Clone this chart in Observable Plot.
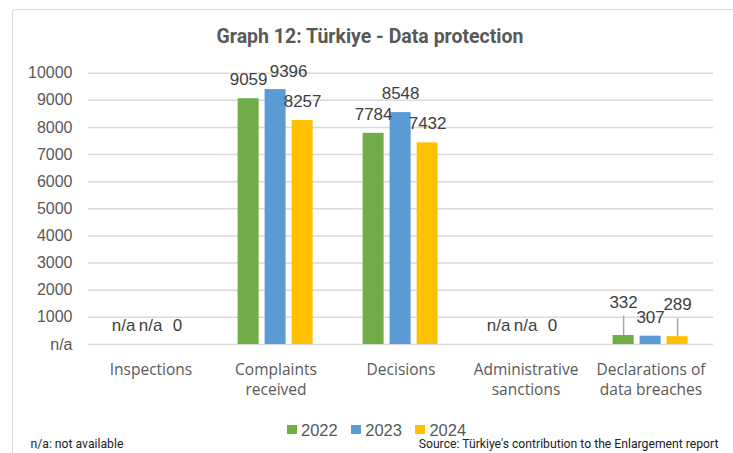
<!DOCTYPE html>
<html><head><meta charset="utf-8">
<script src="https://cdn.jsdelivr.net/npm/d3@7"></script>
<script src="https://cdn.jsdelivr.net/npm/@observablehq/plot@0.6"></script>
<style>
body{margin:0;background:#fff;}
#wrap{position:relative;width:733px;height:453px;overflow:hidden;font-family:"Liberation Sans",Arial,sans-serif;}
#frame{position:absolute;left:12px;top:9px;width:760px;height:480px;border:1.5px solid #d9d9d9;border-radius:3px;box-sizing:border-box;}
#title{position:absolute;left:0;width:740px;top:25px;text-align:center;font-family:Roboto,sans-serif;font-weight:bold;font-size:19.5px;color:#595959;line-height:23px;}
#chart{position:absolute;left:0;top:0;}
#legend{position:absolute;left:287px;top:419.5px;height:20px;display:flex;align-items:center;font-size:16.5px;color:#595959;line-height:20px;}
#legend .sw{display:inline-block;width:9.5px;height:9.5px;margin-right:4.5px;}
#legend .it{display:flex;align-items:center;margin-right:13.5px;}
#note{position:absolute;left:30.5px;top:437px;font-family:Roboto,sans-serif;font-size:12.2px;color:#222;line-height:14px;}
#source{position:absolute;right:14.5px;top:437px;font-family:Roboto,sans-serif;font-size:12.2px;color:#222;line-height:14px;}
</style>
</head><body>
<div id="wrap">
  <div id="frame"></div>
  <div id="chart"></div>
  <div id="title">Graph 12: Türkiye - Data protection</div>
  <div id="legend"></div>
  <div id="note">n/a: not available</div>
  <div id="source">Source: Türkiye's contribution to the Enlargement report</div>
</div>
<script>
const categories = ["Inspections", "Complaints received", "Decisions", "Administrative sanctions", "Declarations of data breaches"];
const categoryLabels = ["Inspections", "Complaints\nreceived", "Decisions", "Administrative\nsanctions", "Declarations of\ndata breaches"];
const years = ["2022", "2023", "2024"];
const values2022 = [null, 9059, 7784, null, 332];
const values2023 = [null, 9396, 8548, null, 307];
const values2024 = [0, 8257, 7432, 0, 289];
const colors = ["#70ad47", "#5b9bd5", "#ffc000"];
const yTicks = [0, 1000, 2000, 3000, 4000, 5000, 6000, 7000, 8000, 9000, 10000];
const yTickLabels = ["n/a", "1000", "2000", "3000", "4000", "5000", "6000", "7000", "8000", "9000", "10000"];

const series = [values2022, values2023, values2024];
const rows = categories.flatMap((c, i) => years.map((yr, j) => ({category: c, year: yr, value: series[j][i]})));
const labelText = d => d.value == null ? "n/a" : String(d.value);

// Excel-like label placement tweaks (layout only)
const nudges = {
  "Complaints received|2023": {dx: 13, dy: -18},
  "Declarations of data breaches|2022": {dx: 0, dy: -32.5, leader: 19.5},
  "Declarations of data breaches|2024": {dx: 0, dy: -32, leader: 18}
};
const key = d => d.category + "|" + d.year;

const labelFont = {fontSize: 17, fill: "#404040", fontFamily: "Liberation Sans, Arial, sans-serif", lineAnchor: "middle"};

const marks = [
  Plot.ruleY(yTicks, {y: d => d, stroke: "#d9d9d9", strokeWidth: 1.5}),
  Plot.barY(rows.filter(d => d.value > 0), {fx: "category", x: "year", y: "value", fill: "year"}),
  Plot.text(rows.filter(d => !nudges[key(d)]), {fx: "category", x: "year", y: d => d.value ?? 0, text: labelText, dy: -19, ...labelFont})
];
for (const d of rows) {
  const n = nudges[key(d)];
  if (!n) continue;
  marks.push(Plot.text([d], {fx: "category", x: "year", y: "value", text: labelText, dx: n.dx, dy: n.dy, ...labelFont}));
  if (n.leader) marks.push(Plot.ruleX([d], {fx: "category", x: "year", y1: "value", y2: "value", insetTop: -n.leader, stroke: "#a6a6a6", strokeWidth: 1.5}));
}
marks.push(
  Plot.axisY({ticks: yTicks, tickFormat: d => yTickLabels[yTicks.indexOf(d)], tickSize: 0, tickPadding: 16, fontSize: 16, color: "#595959", label: null}),
  Plot.axisFx({anchor: "bottom", tickSize: 0, tickPadding: 16.5, tickFormat: c => categoryLabels[categories.indexOf(c)], fontSize: 15.5, fontFamily: "Open Sans, sans-serif", lineHeight: 1.3, color: "#595959", label: null})
);

const chart = Plot.plot({
  width: 733,
  height: 400,
  marginTop: 72.7,
  marginBottom: 56,
  marginLeft: 87.4,
  marginRight: 18.7,
  style: {fontFamily: "Liberation Sans, Arial, sans-serif", fontSize: "16px", color: "#595959", background: "transparent", overflow: "visible"},
  fx: {domain: categories, padding: 0},
  x: {domain: years, paddingInner: 0.224, paddingOuter: 0.872, axis: null},
  y: {domain: [0, 10000], axis: null},
  color: {domain: years, range: colors},
  marks
});
document.getElementById("chart").appendChild(chart);

const legend = document.getElementById("legend");
years.forEach((yr, i) => {
  const it = document.createElement("span");
  it.className = "it";
  it.innerHTML = `<span class="sw" style="background:${colors[i]}"></span>${yr}`;
  legend.appendChild(it);
});
</script>
</body></html>
